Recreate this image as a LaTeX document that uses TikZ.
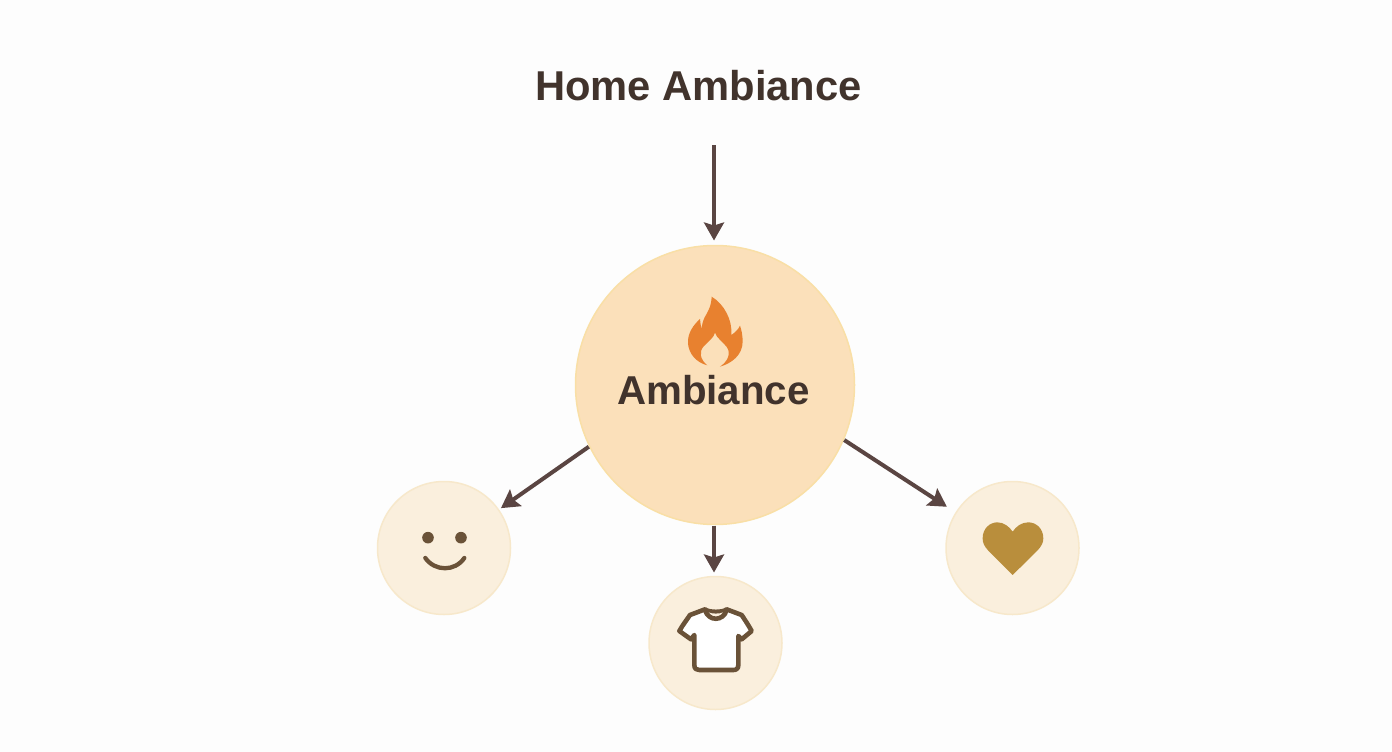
\documentclass[tikz,border=0pt]{standalone}
\usepackage{fontspec}
\setmainfont{Liberation Sans}[BoldFont={Liberation Sans Bold}]
\usetikzlibrary{arrows.meta}
\definecolor{bgc}{HTML}{FDFDFD}
\definecolor{txt}{HTML}{41332C}
\definecolor{arr}{HTML}{5A4542}
\definecolor{mainf}{HTML}{FBE0BA}
\definecolor{mainb}{HTML}{F9DFA6}
\definecolor{smallf}{HTML}{FAEFDD}
\definecolor{smallb}{HTML}{F7E8CB}
\definecolor{flame}{HTML}{E8812F}
\definecolor{heartc}{HTML}{B98E3C}
\definecolor{icon}{HTML}{6A5238}
\tikzset{
  bigcircle/.style={circle,draw=mainb,fill=mainf,line width=1.5pt,minimum size=279pt,inner sep=0pt,outer sep=0pt},
  smallcircle/.style={circle,draw=smallb,fill=smallf,line width=1.5pt,minimum size=133pt,inner sep=0pt,outer sep=0pt},
  link/.style={draw=arr,line width=4pt,-{Stealth[length=18pt,width=20pt,inset=3pt]}},
  label/.style={text=txt,inner sep=0pt,anchor=base}
}
\begin{document}
\begin{tikzpicture}[x=1pt,y=-1pt]
\useasboundingbox[fill=bgc] (0,0) rectangle (1392,752);
\node[label,font=\fontsize{41.7}{42}\selectfont\bfseries] (title) at (698.5,100) {Home Ambiance};
\node[bigcircle] (main) at (715,385) {};
\node[smallcircle] (smile) at (444,548) {};
\node[smallcircle] (shirt) at (715.5,643) {};
\node[smallcircle] (heart) at (1012.5,548) {};
\node[label,font=\fontsize{40.3}{41}\selectfont\bfseries] (amb) at (713.5,404) {Ambiance};
\coordinate (start) at (714,145);
\draw[link,shorten >=5pt] (start) -- (main.north -| start);
\draw[link,shorten <=1pt,shorten >=3pt] (main.206) -- (smile.35.7);
\draw[link,shorten <=1pt,shorten >=11pt] (main.-23.8) -- (heart.148.5);
\draw[link,shorten <=1pt,shorten >=4pt] (main.south -| start) -- (shirt.north -| start);
% flame
\begin{scope}[shift={(600,280)},x=0.3333pt,y=-0.3333pt]
\fill[flame]
 (335,50) .. controls (334,78) and (324,95) .. (314,112) .. controls (308,124) and (306,135) .. (305,147)
 .. controls (303,137) and (300,127) .. (300,117) .. controls (280,135) and (262,160) .. (264,190)
 .. controls (266,222) and (290,248) .. (322,256)
 .. controls (300,238) and (296,215) .. (312,198) .. controls (326,184) and (342,172) .. (345,158)
 .. controls (350,175) and (370,186) .. (381,202) .. controls (394,222) and (382,245) .. (360,260)
 .. controls (395,250) and (428,225) .. (428,185) .. controls (428,168) and (425,150) .. (420,137)
 .. controls (415,148) and (405,158) .. (394,165) .. controls (398,120) and (372,72) .. (335,50) -- cycle;
\end{scope}
% smile
\begin{scope}[shift={(370,430)},x=0.3333pt,y=-0.3333pt]
\fill[icon] (174,323) circle[radius=5.8pt];
\fill[icon] (273,323) circle[radius=5.8pt];
\draw[icon,line width=4.3pt,line cap=round] (166,384) .. controls (195,425) and (255,425) .. (283,384);
\end{scope}
% shirt
\begin{scope}[shift={(640,570)},x=0.3333pt,y=-0.3333pt]
\fill[white,draw=icon,line width=4.6pt,line join=round]
 (195,118) -- (150,135) .. controls (140,150) and (128,165) .. (118,183) -- (153,208) -- (163,195)
 -- (163,285) .. controls (163,297) and (170,300) .. (178,300) -- (280,300) .. controls (290,300) and (295,295) .. (295,285)
 -- (295,198) -- (305,208) -- (335,183) .. controls (325,165) and (315,150) .. (305,135) -- (260,118)
 .. controls (250,128) and (205,128) .. (195,118) -- cycle;
\fill[smallf] (205,127) .. controls (215,132) and (240,132) .. (250,127) .. controls (240,145) and (215,145) .. (205,127) -- cycle;
\draw[icon,line width=4.6pt,line cap=round] (195,120) .. controls (205,155) and (250,155) .. (260,120);
\end{scope}
% heart
\begin{scope}[shift={(840,430)},x=0.3333pt,y=-0.3333pt]
\fill[heartc] (518,435) -- (445,362) .. controls (432,348) and (428,338) .. (428,325)
 .. controls (428,295) and (450,277) .. (472,277) .. controls (492,277) and (508,290) .. (518,305)
 .. controls (528,290) and (544,277) .. (565,277) .. controls (588,277) and (610,295) .. (610,325)
 .. controls (610,338) and (605,348) .. (592,362) -- cycle;
\end{scope}
\end{tikzpicture}
\end{document}
